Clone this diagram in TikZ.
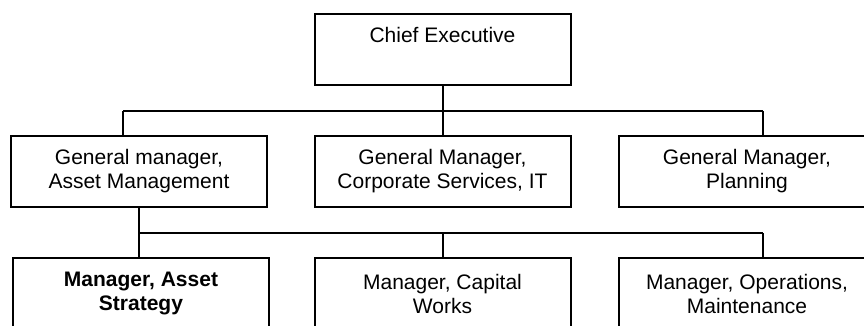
\documentclass[tikz,border=0pt]{standalone}
\usepackage{fontspec}
\setmainfont{Liberation Sans}
\usetikzlibrary{calc}

\begin{document}
\begin{tikzpicture}[x=1pt,y=-1pt,line width=2pt,
	post/.style={draw, rectangle, minimum width=256pt, minimum height=71pt,
		inner sep=0pt, align=center, font=\fontsize{21}{24}\selectfont}]
\useasboundingbox (0,0) rectangle (864,326);
\clip (0,0) rectangle (864,326);
% boxes
\node[post] (chief) at (442.5,50) {Chief Executive\\ \strut};
\node[post] (gmasset) at (139,171.5) {General manager,\\Asset Management};
\node[post] (gmcorp) at (442.5,171.5) {General Manager,\\Corporate Services, IT};
\node[post] (gmplan) at (747,171.5) {General Manager,\\Planning};
\node[post] (mstrat) at (141,293.5) {\bfseries Manager, Asset\\\bfseries Strategy};
\node[post] (mcapital) at (442.5,293.5) {Manager, Capital\\Works};
\node[post] (mops) at (747,293.5) {Manager, Operations,\\Maintenance};
% lines from the chief
\coordinate (busL) at ($(gmasset.north)+(-16,-24)$);
\coordinate (busR) at ($(gmplan.north)+(16,-24)$);
\draw (chief.south) -- (chief.south |- busL);
\draw (busL) -- (busR);
\draw (busL) -- (busL |- gmasset.north);
\draw (chief.south |- busL) -- (gmcorp.north);
\draw (busR) -- (busR |- gmplan.north);
% lines from asset management
\coordinate (busB) at ($(gmasset.south)+(0,25)$);
\draw (gmasset.south) -- (busB) -- (busB -| busR);
\draw (busB) -- (busB |- mstrat.north);
\draw (busB -| gmcorp.south) -- (mcapital.north);
\draw (busB -| busR) -- (busR |- mops.north);
\end{tikzpicture}
\end{document}
